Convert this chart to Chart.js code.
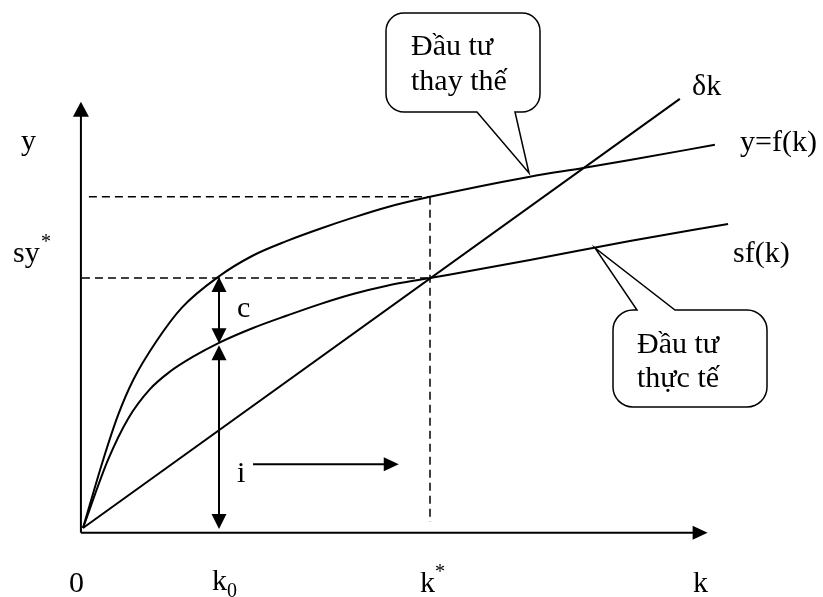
<!DOCTYPE html>
<html>
<head>
<meta charset="utf-8">
<script src="https://cdn.jsdelivr.net/npm/chart.js@4/dist/chart.umd.min.js"></script>
<style>
  body { margin: 0; background: #fff; }
</style>
</head>
<body>
<canvas id="myChart" width="823" height="597"></canvas>
<script>
// y = f(k)
const kF = [0, 0.58, 1.01, 1.44, 2.13, 2.85, 3.89, 4.9, 5.88, 6.83, 7.78, 8.76, 10, 12.88, 14.41, 15.76, 18.21];
const fVals = [0, 1.96, 3.25, 4.25, 5.40, 6.35, 7.23, 7.85, 8.27, 8.62, 8.94, 9.24, 9.54, 10.12, 10.37, 10.60, 11.04];

// sf(k)
const kSF = [0, 0.72, 1.30, 1.93, 2.5, 3.2, 3.89, 4.9, 5.88, 6.83, 7.78, 8.76, 10, 12.88, 15.76, 18.59];
const sfVals = [0, 1.96, 3.15, 4.0, 4.5, 4.95, 5.32, 5.76, 6.12, 6.45, 6.74, 6.98, 7.20, 7.72, 8.27, 8.76];

// δk (straight line)
const kDelta = [0, 17.2];
const deltaVals = [0, 12.36];

// k0 and k* (both are points of the f and sf arrays)
const kZero = 3.89;
const kStar = 10;

const FONT = '"Liberation Serif", "Times New Roman", serif';

function pts(xs, ys) {
  return xs.map((x, i) => ({ x: x, y: ys[i] }));
}

function head(ctx, x, y, dir, len, half) {
  ctx.beginPath();
  ctx.moveTo(x, y);
  if (dir == 'up') { ctx.lineTo(x - half, y + len); ctx.lineTo(x + half, y + len); }
  if (dir == 'down') { ctx.lineTo(x - half, y - len); ctx.lineTo(x + half, y - len); }
  if (dir == 'right') { ctx.lineTo(x - len, y - half); ctx.lineTo(x - len, y + half); }
  ctx.closePath();
  ctx.fill();
}

function line(ctx, x1, y1, x2, y2) {
  ctx.beginPath();
  ctx.moveTo(x1, y1);
  ctx.lineTo(x2, y2);
  ctx.stroke();
}

// rounded box with a pointer, side = 'bottom' or 'top'
function callout(ctx, x0, y0, x1, y1, r, a, b, tx, ty, side) {
  ctx.beginPath();
  ctx.moveTo(x0 + r, y0);
  if (side == 'top') { ctx.lineTo(a, y0); ctx.lineTo(tx, ty); ctx.lineTo(b, y0); }
  ctx.lineTo(x1 - r, y0);
  ctx.arcTo(x1, y0, x1, y0 + r, r);
  ctx.lineTo(x1, y1 - r);
  ctx.arcTo(x1, y1, x1 - r, y1, r);
  if (side == 'bottom') { ctx.lineTo(b, y1); ctx.lineTo(tx, ty); ctx.lineTo(a, y1); }
  ctx.lineTo(x0 + r, y1);
  ctx.arcTo(x0, y1, x0, y1 - r, r);
  ctx.lineTo(x0, y0 + r);
  ctx.arcTo(x0, y0, x0 + r, y0, r);
  ctx.closePath();
  ctx.fillStyle = '#fff';
  ctx.fill();
  ctx.stroke();
  ctx.fillStyle = '#000';
}

const decor = {
  id: 'decor',
  afterDatasetsDraw(chart) {
    const ctx = chart.ctx;
    const sx = chart.scales.x, sy = chart.scales.y;
    const px = v => sx.getPixelForValue(v);
    const py = v => sy.getPixelForValue(v);

    const fStar = fVals[kF.indexOf(kStar)];
    const sfStar = sfVals[kSF.indexOf(kStar)];
    const fZero = fVals[kF.indexOf(kZero)];
    const sfZero = sfVals[kSF.indexOf(kZero)];

    ctx.save();
    ctx.strokeStyle = '#000';
    ctx.fillStyle = '#000';
    ctx.lineCap = 'butt';

    // axes
    const ox = px(-0.06), oy = py(-0.14);
    ctx.lineWidth = 2;
    line(ctx, ox, oy, ox, py(12.28) + 10);
    head(ctx, ox, py(12.28), 'up', 15, 8);
    line(ctx, ox, oy, px(18.0) - 10, oy);
    head(ctx, px(18.0), oy, 'right', 15, 7);

    // dashed guides
    ctx.lineWidth = 1.5;
    ctx.setLineDash([8, 5]);
    line(ctx, px(0.17), py(fStar), px(kStar), py(fStar));
    line(ctx, px(-0.03), py(sfStar), px(kStar), py(sfStar));
    line(ctx, px(kStar), py(fStar), px(kStar), py(0.17));
    ctx.setLineDash([]);

    // c and i arrows at k0
    const ax = px(kZero) + 1;
    ctx.lineWidth = 2;
    line(ctx, ax, py(fZero) + 8, ax, py(sfZero) - 8);
    head(ctx, ax, py(fZero), 'up', 15, 7.5);
    head(ctx, ax, py(sfZero), 'down', 15, 7.5);
    line(ctx, ax, py(sfZero) + 10, ax, py(-0.03) - 8);
    head(ctx, ax, py(sfZero) + 2, 'up', 15, 7.5);
    head(ctx, ax, py(-0.03), 'down', 15, 7.5);

    // movement arrow
    const iy = py(1.84);
    line(ctx, px(4.9), iy, px(9.1) - 8, iy);
    head(ctx, px(9.1), iy, 'right', 15, 7);

    // callouts
    ctx.lineWidth = 1.5;
    callout(ctx, 386, 13, 540, 112, 18, 477, 515, 529, 173, 'bottom');
    callout(ctx, 613, 310, 767, 407, 20, 637, 675, 595, 248, 'top');

    // text
    ctx.textAlign = 'left';
    ctx.textBaseline = 'alphabetic';
    ctx.font = '30px ' + FONT;
    ctx.fillText('Đầu tư', 411, 55);
    ctx.fillText('thay thế', 411, 90);
    ctx.fillText('Đầu tư', 637, 353);
    ctx.fillText('thực tế', 637, 387);

    ctx.fillText('y', 21, 150);
    ctx.fillText('sy', 13, 262);
    ctx.fillText('δk', 692, 95);
    ctx.fillText('y=f(k)', 740, 151);
    ctx.fillText('sf(k)', 733, 262);
    ctx.fillText('c', 237, 317);
    ctx.fillText('i', 237, 482);

    ctx.fillText('0', 69, 592);
    ctx.fillText('k', 212, 590);
    ctx.fillText('k', 420, 592);
    ctx.fillText('k', 693, 592);

    ctx.font = '20px ' + FONT;
    ctx.fillText('*', 41, 248);
    ctx.fillText('0', 227, 597);
    ctx.fillText('*', 435, 578);
    ctx.restore();
  }
};

const ctx = document.getElementById('myChart').getContext('2d');

const myChart = new Chart(ctx, {
  type: 'line',
  data: {
    datasets: [
      {
        label: 'y=f(k)',
        data: pts(kF, fVals),
        borderColor: '#000',
        borderWidth: 2,
        pointRadius: 0,
        cubicInterpolationMode: 'monotone',
        fill: false,
        clip: false
      },
      {
        label: 'sf(k)',
        data: pts(kSF, sfVals),
        borderColor: '#000',
        borderWidth: 2,
        pointRadius: 0,
        cubicInterpolationMode: 'monotone',
        fill: false,
        clip: false
      },
      {
        label: 'δk',
        data: pts(kDelta, deltaVals),
        borderColor: '#000',
        borderWidth: 2,
        pointRadius: 0,
        tension: 0,
        fill: false,
        clip: false
      }
    ]
  },
  options: {
    responsive: false,
    animation: false,
    layout: { padding: { left: 83, right: 46, top: 42, bottom: 69 } },
    plugins: {
      legend: { display: false },
      tooltip: { enabled: false }
    },
    scales: {
      x: { type: 'linear', min: 0, max: 20, display: false },
      y: { type: 'linear', min: 0, max: 14, display: false }
    }
  },
  plugins: [decor]
});
</script>
</body>
</html>
